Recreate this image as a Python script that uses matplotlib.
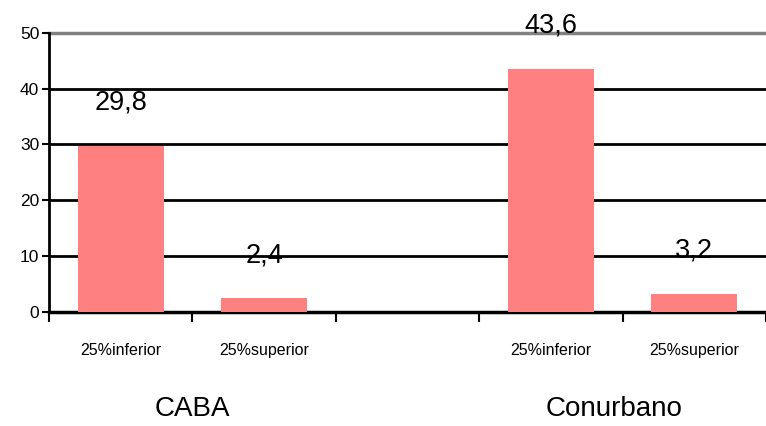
import numpy as np
import matplotlib.pyplot as plt

plt.rcParams['font.family'] = ['Liberation Sans Narrow', 'Liberation Sans', 'DejaVu Sans']

categories = ['25%inferior', '25%superior', '', '25%inferior', '25%superior']
values = [29.8, 2.4, None, 43.6, 3.2]
value_labels = ['29,8', '2,4', '', '43,6', '3,2']
groups = ['CABA', 'Conurbano']
group_members = [[0, 1], [3, 4]]

fig = plt.figure(figsize=(7.66, 4.26), dpi=100)
ax = fig.add_axes([0.064, 0.268, 0.936, 0.655])

x = np.arange(len(categories))
for i, v in enumerate(values):
    if v is None:
        continue
    ax.bar(x[i], v, width=0.6, color='#FF8080', zorder=3)
    ax.annotate(value_labels[i], xy=(x[i], v), xytext=(0, 31),
                textcoords='offset points', ha='center', va='center',
                fontsize=19.5, zorder=4)

ax.set_xlim(-0.5, len(categories) - 0.5)
ax.set_ylim(0, 50)
ax.set_yticks([0, 10, 20, 30, 40, 50])
ax.tick_params(axis='y', labelsize=12.5, length=5, width=1.5, direction='out', pad=2)

# gridlines
for yv in [10, 20, 30, 40]:
    ax.axhline(yv, color='black', lw=2, zorder=1)
ax.axhline(50, color='#808080', lw=2.5, zorder=1, clip_on=False)

# category tick marks at boundaries
ax.set_xticks(np.arange(-0.5, len(categories), 1.0))
ax.set_xticklabels([])
ax.tick_params(axis='x', length=7, width=1.5, direction='out')
for i, c in enumerate(categories):
    ax.text(x[i], -0.14, c, transform=ax.get_xaxis_transform(),
            ha='center', va='center', fontsize=11.5)

for g, members in zip(groups, group_members):
    ax.text(np.mean(members) - (0.06 if g == 'Conurbano' else 0), -0.35, g,
            transform=ax.get_xaxis_transform(),
            ha='center', va='center', fontsize=20)

for s in ['top', 'right']:
    ax.spines[s].set_visible(False)
ax.spines['left'].set_linewidth(2)
ax.spines['bottom'].set_linewidth(2.5)

fig.savefig('out.png', dpi=100)
